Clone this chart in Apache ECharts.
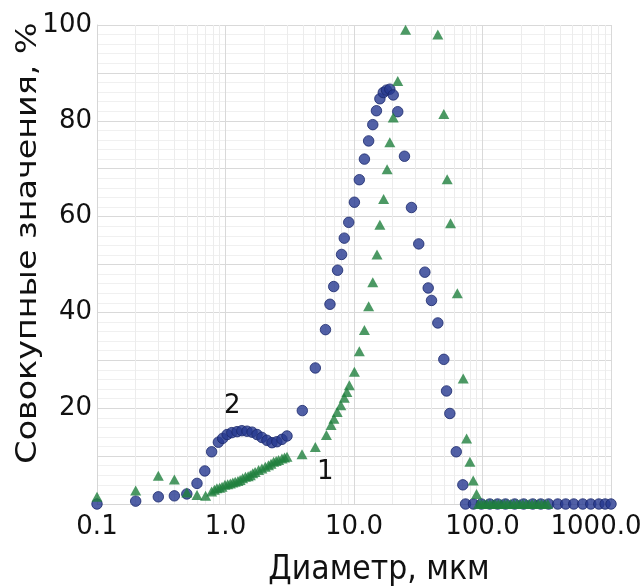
<!DOCTYPE html>
<html><head><meta charset="utf-8">
<script src="https://cdn.jsdelivr.net/npm/echarts@6/dist/echarts.min.js"></script>
<style>html,body{margin:0;padding:0;background:#fff}#c{width:643px;height:588px}</style>
</head><body><div id="c"></div>
<script>
// Series 2 (blue circles): diameter, cumulative %
const d2 = [0.1,0.2,0.3,0.4,0.5,0.6,0.69,0.78,0.88,0.95,1.03,1.12,1.23,1.34,1.47,1.61,1.76,1.92,2.10,2.30,2.51,2.75,3.01,3.96,5.0,6.0,6.5,6.95,7.45,8.0,8.4,9.1,10.07,11.0,12.05,13.0,14.0,14.95,15.9,16.9,17.9,19.0,20.2,21.9,24.7,28.0,31.9,35.6,37.8,40.1,44.9,50.0,52.5,55.7,62.5,70.3,73.8,85,98,114,131,151,178,209,246,284,327,385,444,513,603,696,804,900,1000];
const v2 = [0,0.6,1.5,1.7,2.1,4.3,6.9,10.9,12.9,13.7,14.5,14.9,15.1,15.3,15.2,15.0,14.5,13.9,13.3,12.8,13.0,13.5,14.2,19.5,28.4,36.4,41.7,45.4,48.8,52.1,55.5,58.8,63.0,67.7,72.0,75.8,79.2,82.1,84.6,85.9,86.4,86.6,85.4,81.9,72.6,61.9,54.3,48.4,45.1,42.5,37.8,30.2,23.6,18.9,10.9,4.0,0,0,0,0,0,0,0,0,0,0,0,0,0,0,0,0,0,0,0];
// Series 1 (green triangles)
const d1 = [0.1,0.2,0.3,0.4,0.5,0.6,0.7,0.78,0.82,0.857,0.9,0.94,0.99,1.04,1.09,1.14,1.19,1.25,1.30,1.36,1.43,1.5,1.56,1.63,1.70,1.81,1.92,2.04,2.16,2.26,2.37,2.48,2.59,2.75,2.88,3.01,3.94,5.0,6.1,6.63,6.98,7.4,7.9,8.4,8.8,9.2,10.07,11.0,12.05,13.0,14.0,15.1,15.9,17.0,18.1,19.0,20.2,21.9,25.2,44.9,50.0,53.1,56.4,63.7,70.8,75.2,79.8,84.7,89.9,93,98,103,108,114,120,126,133,140,148,156,165,175,185,195,206,218,230,243,257,272,288,305,322];
const v1 = [1.5,2.8,5.9,5.1,2.4,1.9,1.7,2.6,3.0,3.3,3.4,3.6,4.0,4.1,4.3,4.5,4.65,4.8,5.0,5.4,5.7,5.8,6.0,6.4,6.7,7.1,7.4,7.8,8.1,8.4,8.8,9.0,9.2,9.5,9.7,9.85,10.4,11.9,14.4,16.5,17.8,19.2,20.6,22.2,23.4,24.8,27.6,31.9,36.3,41.3,46.3,52.1,58.3,63.7,69.9,75.5,80.7,88.3,99.0,98.0,81.4,67.8,58.6,44.0,26.2,13.7,8.8,4.9,2.1,0,0,0,0,0,0,0,0,0,0,0,0,0,0,0,0,0,0,0,0,0,0,0,0];
const xTicks = [0.1,1,10,100,1000];
const xMinor = [0.2,0.3,0.4,0.5,0.6,0.7,0.8,0.9,2,3,4,5,6,7,8,9,20,30,40,50,60,70,80,90,200,300,400,500,600,700,800,900];
const yLabels = [20,40,60,80,100];
const curveLabels = [{name:'2', x:1.13, y:20.4},{name:'1', x:5.98, y:6.7}];
const xTitle = 'Диаметр, мкм';
const yTitle = 'Совокупные значения, %';

const FONT = 'DejaVu Sans';
const chart = echarts.init(document.getElementById('c'), null, {renderer:'canvas'});
chart.setOption({
  animation:false,
  backgroundColor:'#fff',
  grid:{left:97, right:32, top:25, bottom:84, containLabel:false, outerBoundsMode:'none'},
  xAxis:{
    type:'log', logBase:10, min:0.1, max:1000,
    axisLine:{show:true, lineStyle:{color:'#d6d6d6'}},
    axisTick:{show:false},
    axisLabel:{fontFamily:FONT, fontSize:26, color:'#111', margin:10, hideOverlap:false,
      formatter:v=> {
        const s = v<1 ? String(Math.round(v*10)/10) : Number(v).toFixed(1);
        return v >= 999 ? '{last|' + s + '}' : s;
      },
      rich:{last:{fontFamily:FONT, fontSize:26, color:'#111', padding:[0,30,0,0]}}},
    splitLine:{show:true, lineStyle:{color:'#d9d9d9', width:1}}
  },
  yAxis:{
    type:'value', min:0, max:100, interval:10,
    axisLine:{show:true, lineStyle:{color:'#d6d6d6'}},
    axisTick:{show:false},
    axisLabel:{fontFamily:FONT, fontSize:26, color:'#111', margin:5,
      formatter:v=> yLabels.indexOf(v)>=0 ? String(v) : ''},
    splitLine:{show:true, lineStyle:{color:'#d9d9d9', width:1}},
    minorTick:{show:false, splitNumber:5},
    minorSplitLine:{show:true, lineStyle:{color:'#f0f0f0', width:1}}
  },
  graphic:[
    {type:'text', x:379, y:570, scaleY:1.15,
      style:{text:xTitle, fontFamily:FONT, fontSize:30, fill:'#111', align:'center', verticalAlign:'middle'}},
    {type:'text', x:28, y:243, rotation:Math.PI/2, scaleX:1.15,
      style:{text:yTitle, fontFamily:FONT, fontSize:29, fill:'#111', align:'center', verticalAlign:'middle'}}
  ],
  series:[
    {
      type:'scatter', name:'2', symbol:'circle', symbolSize:10.5,
      data:d2.map((d,i)=>[d,v2[i]]),
      itemStyle:{color:'#263890', borderColor:'#1a286c', borderWidth:1},
      markLine:{silent:true, symbol:'none', animation:false, z:0,
        label:{show:false},
        lineStyle:{color:'#ececec', width:1, type:'solid'},
        data:xMinor.map(v=>({xAxis:v}))},
      z:2
    },
    {
      type:'scatter', name:'1', symbol:'triangle', symbolSize:[11,10],
      data:d1.map((d,i)=>[d,v1[i]]),
      itemStyle:{color:'#1f7f3d'},
      markPoint:{silent:true, symbol:'rect', symbolSize:1,
        itemStyle:{color:'rgba(0,0,0,0)'},
        label:{show:true, formatter:p=>p.name, fontFamily:FONT, fontSize:26, color:'#111', position:'inside'},
        data:curveLabels.map(c=>({name:c.name, coord:[c.x,c.y]}))},
      z:3
    }
  ]
});
</script></body></html>
